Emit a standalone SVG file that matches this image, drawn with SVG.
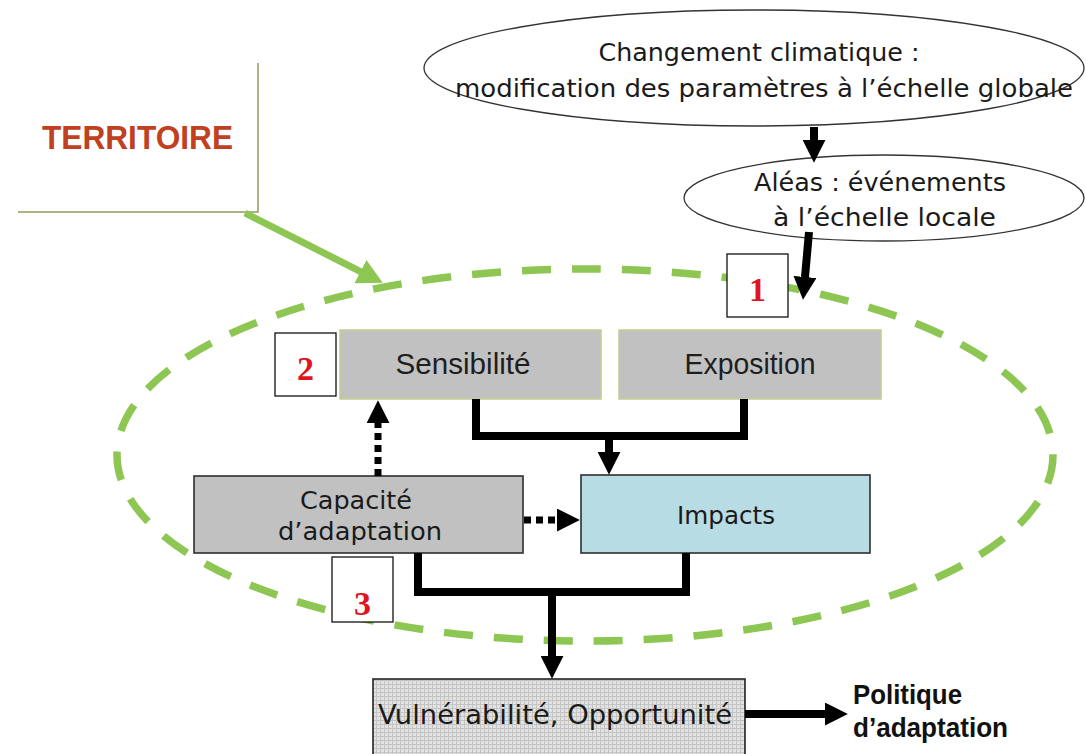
<svg xmlns="http://www.w3.org/2000/svg" width="1086" height="754" viewBox="0 0 1086 754">
<defs>
<style>
.ell{fill:#fff;stroke:#333;stroke-width:1.3}
.hum{font-family:"DejaVu Sans","Liberation Sans",sans-serif;fill:#1a1a1a;text-anchor:middle}
.ari{font-family:"Liberation Sans",Arial,sans-serif;fill:#1e1e1e;text-anchor:middle}
.num{font-family:"Liberation Serif","Times New Roman",serif;font-weight:bold;font-size:34px;fill:#e0141e;text-anchor:middle}
.numbox{fill:#fff;stroke:#111;stroke-width:1.3}
.greybox{fill:#c1c1c1;stroke:#c5cc8c;stroke-width:1.5}
.darkbox{stroke:#2e2e2e;stroke-width:1.6}
.conn{fill:none;stroke:#000;stroke-width:8;stroke-linejoin:miter;stroke-linecap:butt}
.dot{fill:none;stroke:#000;stroke-width:7;stroke-dasharray:7 5}
.green{fill:none;stroke:#8dc653;stroke-width:7}
</style>
<marker id="ah" viewBox="0 0 10 10" refX="0.5" refY="5" markerWidth="23" markerHeight="23" markerUnits="userSpaceOnUse" orient="auto" preserveAspectRatio="none">
<path d="M0,0 L10,5 L0,10 z" fill="#000"/>
</marker>
<marker id="ahg" viewBox="0 0 10 10" refX="0.5" refY="5" markerWidth="25" markerHeight="26" markerUnits="userSpaceOnUse" orient="auto" preserveAspectRatio="none">
<path d="M0,0 L10,5 L0,10 z" fill="#8dc653"/>
</marker>
<pattern id="grid" width="4" height="4" patternUnits="userSpaceOnUse">
<rect width="4" height="4" fill="#e2e2e2"/>
<path d="M0,0.5 H4 M0.5,0 V4" stroke="#c4c4c4" stroke-width="1"/>
</pattern>
</defs>
<rect width="1086" height="754" fill="#fff"/>

<g id="territoire">
<path d="M258,63 V212 H18" fill="none" stroke="#8f9c62" stroke-width="1.5"/>
<text x="42" y="149" font-family="Liberation Sans,Arial,sans-serif" font-weight="bold" font-size="33" fill="#c0401f" textLength="191" lengthAdjust="spacingAndGlyphs">TERRITOIRE</text>
</g>

<g id="territory-ellipse">
<ellipse cx="585" cy="455" rx="468" ry="186" fill="none" stroke="#8dc653" stroke-width="7.5" stroke-dasharray="29 21"/>
</g>

<g id="changement">
<ellipse class="ell" cx="754" cy="68" rx="330" ry="58"/>
<text class="hum" x="759" y="61" font-size="25.5" textLength="321" lengthAdjust="spacingAndGlyphs">Changement climatique :</text>
<text class="hum" x="764" y="97" font-size="25.5" textLength="618" lengthAdjust="spacingAndGlyphs">modification des paramètres à l’échelle globale</text>
</g>

<g id="aleas">
<ellipse class="ell" cx="884" cy="198" rx="200" ry="43"/>
<text class="hum" x="880" y="191" font-size="25.5" textLength="252" lengthAdjust="spacingAndGlyphs">Aléas : événements</text>
<text class="hum" x="884.5" y="226" font-size="25.5" textLength="223" lengthAdjust="spacingAndGlyphs">à l’échelle locale</text>
</g>

<g id="num1">
<rect class="numbox" x="727" y="254" width="61" height="63"/>
<text class="num" x="757.5" y="301">1</text>
</g>

<g id="num2">
<rect class="numbox" x="275" y="333" width="61" height="63"/>
<text class="num" x="305.5" y="380">2</text>
</g>

<g id="num3">
<rect class="numbox" x="332" y="557" width="61" height="65"/>
<text class="num" x="362.5" y="615">3</text>
</g>

<g id="sensibilite">
<rect class="greybox" x="340" y="330" width="261" height="69"/>
<text class="ari" x="463" y="374" font-size="29" textLength="135" lengthAdjust="spacingAndGlyphs">Sensibilité</text>
</g>

<g id="exposition">
<rect class="greybox" x="619" y="330" width="262" height="69"/>
<text class="ari" x="750" y="374" font-size="29" textLength="131" lengthAdjust="spacingAndGlyphs">Exposition</text>
</g>

<g id="capacite">
<rect class="darkbox" x="194" y="476" width="329" height="77" fill="#c1c1c1"/>
<text class="hum" x="356" y="509" font-size="25.5" textLength="112" lengthAdjust="spacingAndGlyphs">Capacité</text>
<text class="hum" x="360" y="540" font-size="25.5" textLength="164" lengthAdjust="spacingAndGlyphs">d’adaptation</text>
</g>

<g id="impacts">
<rect class="darkbox" x="581" y="475" width="289" height="78" fill="#b8dce4"/>
<text class="hum" x="726" y="524" font-size="25" textLength="98" lengthAdjust="spacingAndGlyphs">Impacts</text>
</g>

<g id="vulnerabilite">
<rect x="373" y="679" width="372" height="80" fill="url(#grid)" stroke="#222" stroke-width="1.6"/>
<text class="hum" x="555" y="724" font-size="27" textLength="354" lengthAdjust="spacingAndGlyphs">Vulnérabilité, Opportunité</text>
</g>

<g id="politique">
<text x="853" y="704" font-family="Liberation Sans,Arial,sans-serif" font-weight="bold" font-size="28" fill="#111" textLength="109" lengthAdjust="spacingAndGlyphs">Politique</text>
<text x="853" y="737" font-family="Liberation Sans,Arial,sans-serif" font-weight="bold" font-size="28" fill="#111" textLength="155" lengthAdjust="spacingAndGlyphs">d’adaptation</text>
</g>

<g id="connectors">
<line class="green" x1="245" y1="213" x2="361.6" y2="272.1" marker-end="url(#ahg)"/>
<line class="conn" stroke-width="6" x1="814" y1="127" x2="814" y2="141" marker-end="url(#ah)"/>
<line class="conn" stroke-width="6" x1="809" y1="232" x2="804.9" y2="278.1" marker-end="url(#ah)"/>
<path class="conn" d="M476,399 V436 H744 V399"/>
<line class="conn" x1="609" y1="436" x2="609" y2="453" marker-end="url(#ah)"/>
<line class="dot" x1="378" y1="476" x2="378" y2="422" marker-end="url(#ah)"/>
<line class="dot" stroke-width="8" x1="524" y1="520" x2="558" y2="520" marker-end="url(#ah)"/>
<path class="conn" d="M418,553 V592 H686 V553"/>
<line class="conn" x1="552" y1="592" x2="552" y2="657" marker-end="url(#ah)"/>
<line class="conn" x1="745" y1="714" x2="826" y2="714" marker-end="url(#ah)"/>
</g>
</svg>
